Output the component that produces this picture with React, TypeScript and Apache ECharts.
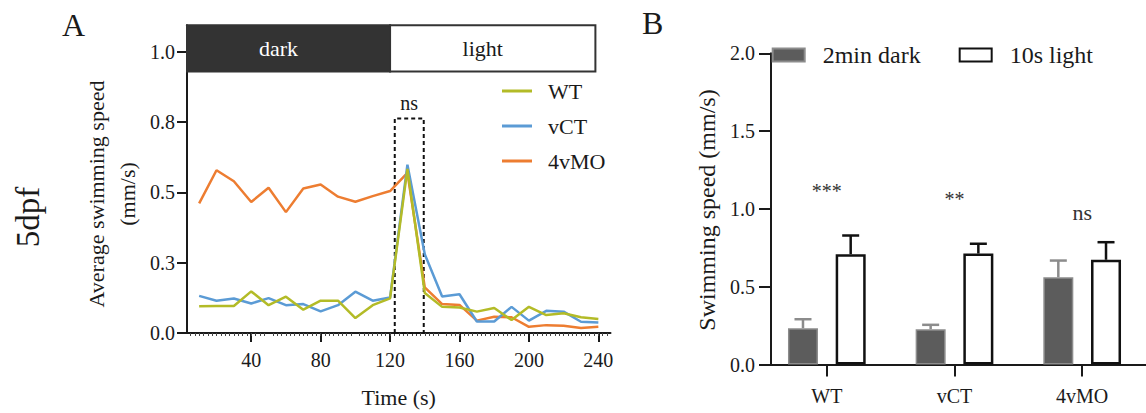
import React, { useEffect, useRef } from "react";
import * as echarts from "echarts";

const FONT = "Liberation Serif";
const INK = "#1a1a1a";

// ---------- Panel A data ----------
const timePoints = [10, 20, 30, 40, 50, 60, 70, 80, 90, 100, 110, 120, 130, 140, 150, 160, 170, 180, 190, 200, 210, 220, 230, 240];
const wtSpeed = [0.095, 0.096, 0.096, 0.148, 0.099, 0.129, 0.083, 0.115, 0.115, 0.053, 0.099, 0.123, 0.584, 0.142, 0.093, 0.091, 0.076, 0.089, 0.046, 0.093, 0.064, 0.07, 0.056, 0.05];
const vctSpeed = [0.132, 0.115, 0.123, 0.105, 0.124, 0.099, 0.103, 0.077, 0.099, 0.147, 0.115, 0.126, 0.599, 0.28, 0.13, 0.138, 0.041, 0.041, 0.093, 0.044, 0.079, 0.076, 0.04, 0.037];
const mo4vSpeed = [0.461, 0.579, 0.54, 0.466, 0.517, 0.43, 0.514, 0.528, 0.485, 0.467, 0.487, 0.505, 0.57, 0.162, 0.103, 0.1, 0.044, 0.058, 0.056, 0.022, 0.028, 0.026, 0.018, 0.022];
const xTickValues = [40, 80, 120, 160, 200, 240];
const yTickValuesA = [0, 0.25, 0.5, 0.75, 1];
const yTickLabelsA = ["0.0", "0.3", "0.5", "0.8", "1.0"];
const phaseNames = ["dark", "light"];
const phaseStart = [3, 120];
const phaseEnd = [120, 238.3];
const phaseBand = [0.93, 1.095];
const nsWindow = [122.7, 139.4];
const nsTop = 0.763;

// ---------- Panel B data ----------
const groups = ["WT", "vCT", "4vMO"];
const darkMean = [0.233, 0.227, 0.561];
const darkSem = [0.058, 0.028, 0.107];
const lightMean = [0.709, 0.713, 0.673];
const lightSem = [0.12, 0.063, 0.113];
const sigLabels = ["***", "**", "ns"];
const sigY = [1.117, 1.062, 0.976];
const yTickLabelB = (v: number) => v.toFixed(1);

const BAR_W = 30;
const BAR_GAP = 0.59;
const BAR_OFFSET = (BAR_W + BAR_W * BAR_GAP) / 2;
const CAP = 8.5;

const zip = (xs: number[], ys: number[]) => xs.map((x, i) => [x, ys[i]]);

function errorSeries(means: number[], sems: number[], sign: number, stroke: string) {
  return {
    type: "custom",
    xAxisIndex: 1,
    yAxisIndex: 1,
    z: 5,
    silent: true,
    data: groups.map((_, i) => [i, means[i], sems[i]]),
    renderItem: (params: any, api: any) => {
      const cat = api.value(0);
      const mean = api.value(1);
      const sem = api.value(2);
      const base = api.coord([cat, mean]);
      const top = api.coord([cat, mean + sem]);
      const x = base[0] + sign * BAR_OFFSET;
      return {
        type: "group",
        children: [
          { type: "line", shape: { x1: x, y1: base[1], x2: x, y2: top[1] }, style: { stroke, lineWidth: 2.5 } },
          { type: "line", shape: { x1: x - CAP, y1: top[1], x2: x + CAP, y2: top[1] }, style: { stroke, lineWidth: 2.5 } },
        ],
      };
    },
  };
}

export default function App() {
  const ref = useRef<HTMLDivElement>(null);
  useEffect(() => {
    if (!ref.current) return;
    const chart = echarts.init(ref.current, undefined, { renderer: "svg" });
    const axisLine = { show: true, lineStyle: { color: INK, width: 2 } };
    const tickStyle = { color: INK, width: 2 };
    const labelBase = { fontSize: 20, fontFamily: FONT, color: INK };
    const center = { textAlign: "center", align: "center", textVerticalAlign: "middle", verticalAlign: "middle" };

    const option: any = {
      animation: false,
      backgroundColor: "#fff",
      textStyle: { fontFamily: FONT },
      grid: [
        { left: 187, top: 25.2, bottom: 79, right: 535.5 },
        { left: 763, top: 53.3, bottom: 48.5, width: 385 },
      ],
      xAxis: [
        {
          gridIndex: 0,
          type: "value",
          min: 3,
          max: 247,
          axisLine,
          axisTick: { show: true, customValues: xTickValues, length: 9, lineStyle: tickStyle },
          minorTick: { show: true, splitNumber: 20, length: 3, lineStyle: { color: "#444", width: 1 } },
          axisLabel: { ...labelBase, customValues: xTickValues, margin: 17 },
          splitLine: { show: false },
          name: "Time (s)",
          nameLocation: "middle",
          nameGap: 53,
          nameTextStyle: { fontSize: 22, fontFamily: FONT, color: INK },
        },
        {
          gridIndex: 1,
          type: "category",
          data: groups,
          axisLine,
          axisTick: { show: true, alignWithLabel: true, length: 12, lineStyle: tickStyle },
          axisLabel: { ...labelBase, margin: 21 },
          splitLine: { show: false },
        },
      ],
      yAxis: [
        {
          gridIndex: 0,
          type: "value",
          min: 0,
          max: 1.095,
          axisLine,
          axisTick: { show: true, customValues: yTickValuesA, length: 10, lineStyle: tickStyle },
          axisLabel: {
            ...labelBase,
            customValues: yTickValuesA,
            margin: 12,
            formatter: (v: number) => {
              const i = yTickValuesA.findIndex((t) => Math.abs(t - v) < 1e-6);
              return i >= 0 ? yTickLabelsA[i] : "";
            },
          },
          splitLine: { show: false },
        },
        {
          gridIndex: 1,
          type: "value",
          min: 0,
          max: 2,
          interval: 0.5,
          offset: -8,
          axisLine,
          axisTick: { show: true, length: 12, lineStyle: tickStyle },
          axisLabel: { ...labelBase, margin: 16, formatter: yTickLabelB },
          splitLine: { show: false },
        },
      ],
      legend: [
        {
          data: ["WT", "vCT", "4vMO"],
          orient: "vertical",
          left: 497,
          top: 75,
          padding: 5,
          icon: "rect",
          itemWidth: 30,
          itemHeight: 3,
          itemGap: 13,
          textStyle: { fontSize: 22, lineHeight: 22, fontFamily: FONT, color: INK, padding: [0, 0, 0, 11] },
        },
        {
          data: ["2min dark", "10s light"],
          orient: "horizontal",
          left: 766.7,
          top: 38,
          padding: 5,
          icon: "rect",
          itemWidth: 32,
          itemHeight: 13,
          itemGap: 38,
          textStyle: { fontSize: 24, fontFamily: FONT, color: INK, padding: [0, 0, 0, 13] },
        },
      ],
      series: [
        {
          name: "4vMO",
          type: "line",
          xAxisIndex: 0,
          yAxisIndex: 0,
          data: zip(timePoints, mo4vSpeed),
          symbol: "none",
          color: "#ed7d31",
          lineStyle: { width: 2.5, color: "#ed7d31" },
          markArea: {
            silent: true,
            data: phaseNames.map((name, i) => [
              {
                name,
                xAxis: phaseStart[i],
                yAxis: phaseBand[0],
                itemStyle:
                  i === 0
                    ? { color: "#333333", borderColor: "#333333", borderWidth: 2 }
                    : { color: "#ffffff", borderColor: "#333333", borderWidth: 2 },
                label: { color: i === 0 ? "#ffffff" : INK },
              },
              { xAxis: phaseEnd[i], yAxis: phaseBand[1] },
            ]),
            label: {
              show: true,
              position: "inside",
              fontSize: 22,
              fontFamily: FONT,
              offset: [-10, 0],
            },
          },
        },
        {
          name: "vCT",
          type: "line",
          xAxisIndex: 0,
          yAxisIndex: 0,
          data: zip(timePoints, vctSpeed),
          symbol: "none",
          color: "#5b9bd5",
          lineStyle: { width: 2.5, color: "#5b9bd5" },
          markArea: {
            silent: true,
            itemStyle: { color: "rgba(0,0,0,0)", borderColor: "#111", borderWidth: 2, borderType: [4, 3] },
            label: { show: true, position: "top", distance: 5, fontSize: 20, fontFamily: FONT, color: INK, formatter: "ns" },
            data: [[{ xAxis: nsWindow[0], yAxis: 0 }, { xAxis: nsWindow[1], yAxis: nsTop }]],
          },
        },
        {
          name: "WT",
          type: "line",
          xAxisIndex: 0,
          yAxisIndex: 0,
          data: zip(timePoints, wtSpeed),
          symbol: "none",
          color: "#b3bb27",
          lineStyle: { width: 2.5, color: "#b3bb27" },
        },
        {
          name: "2min dark",
          type: "bar",
          xAxisIndex: 1,
          yAxisIndex: 1,
          data: darkMean,
          barWidth: BAR_W,
          barGap: `${BAR_GAP * 100}%`,
          itemStyle: { color: "#5c5c5c", borderColor: "#8c8c8c", borderWidth: 1.5 },
        },
        {
          name: "10s light",
          type: "bar",
          xAxisIndex: 1,
          yAxisIndex: 1,
          data: lightMean,
          barWidth: BAR_W,
          barGap: `${BAR_GAP * 100}%`,
          itemStyle: { color: "#ffffff", borderColor: "#111111", borderWidth: 2.5 },
        },
        errorSeries(darkMean, darkSem, -1, "#8c8c8c"),
        errorSeries(lightMean, lightSem, 1, "#111111"),
        {
          type: "custom",
          xAxisIndex: 1,
          yAxisIndex: 1,
          silent: true,
          z: 6,
          data: groups.map((_, i) => [i, sigY[i]]),
          renderItem: (params: any, api: any) => {
            const p = api.coord([api.value(0), api.value(1)]);
            return {
              type: "text",
              x: p[0],
              y: p[1],
              style: {
                text: sigLabels[params.dataIndex],
                ...center,
                fontSize: params.dataIndex === 2 ? 22 : 20,
                fontFamily: FONT,
                fill: "#333",
              },
            };
          },
        },
      ],
      graphic: [
        { type: "text", x: 62, y: 25, style: { text: "A", fontSize: 32, fontFamily: FONT, fill: INK, textVerticalAlign: "middle", verticalAlign: "middle" } },
        { type: "text", x: 642, y: 23, style: { text: "B", fontSize: 32, fontFamily: FONT, fill: INK, textVerticalAlign: "middle", verticalAlign: "middle" } },
        { type: "text", x: 28, y: 217, rotation: Math.PI / 2, style: { text: "5dpf", fontSize: 33, fontFamily: FONT, fill: INK, ...center } },
        { type: "text", x: 96, y: 194, rotation: Math.PI / 2, style: { text: "Average swimming speed", fontSize: 22, fontFamily: FONT, fill: INK, ...center } },
        { type: "text", x: 127, y: 194, rotation: Math.PI / 2, style: { text: "(mm/s)", fontSize: 22, fontFamily: FONT, fill: INK, ...center } },
        { type: "text", x: 707, y: 210, rotation: Math.PI / 2, style: { text: "Swimming speed (mm/s)", fontSize: 24, fontFamily: FONT, fill: INK, ...center } },
      ],
    };
    chart.setOption(option);
    return () => chart.dispose();
  }, []);
  return <div ref={ref} style={{ position: "absolute", left: 0, top: 0, width: 1146, height: 413 }} />;
}
